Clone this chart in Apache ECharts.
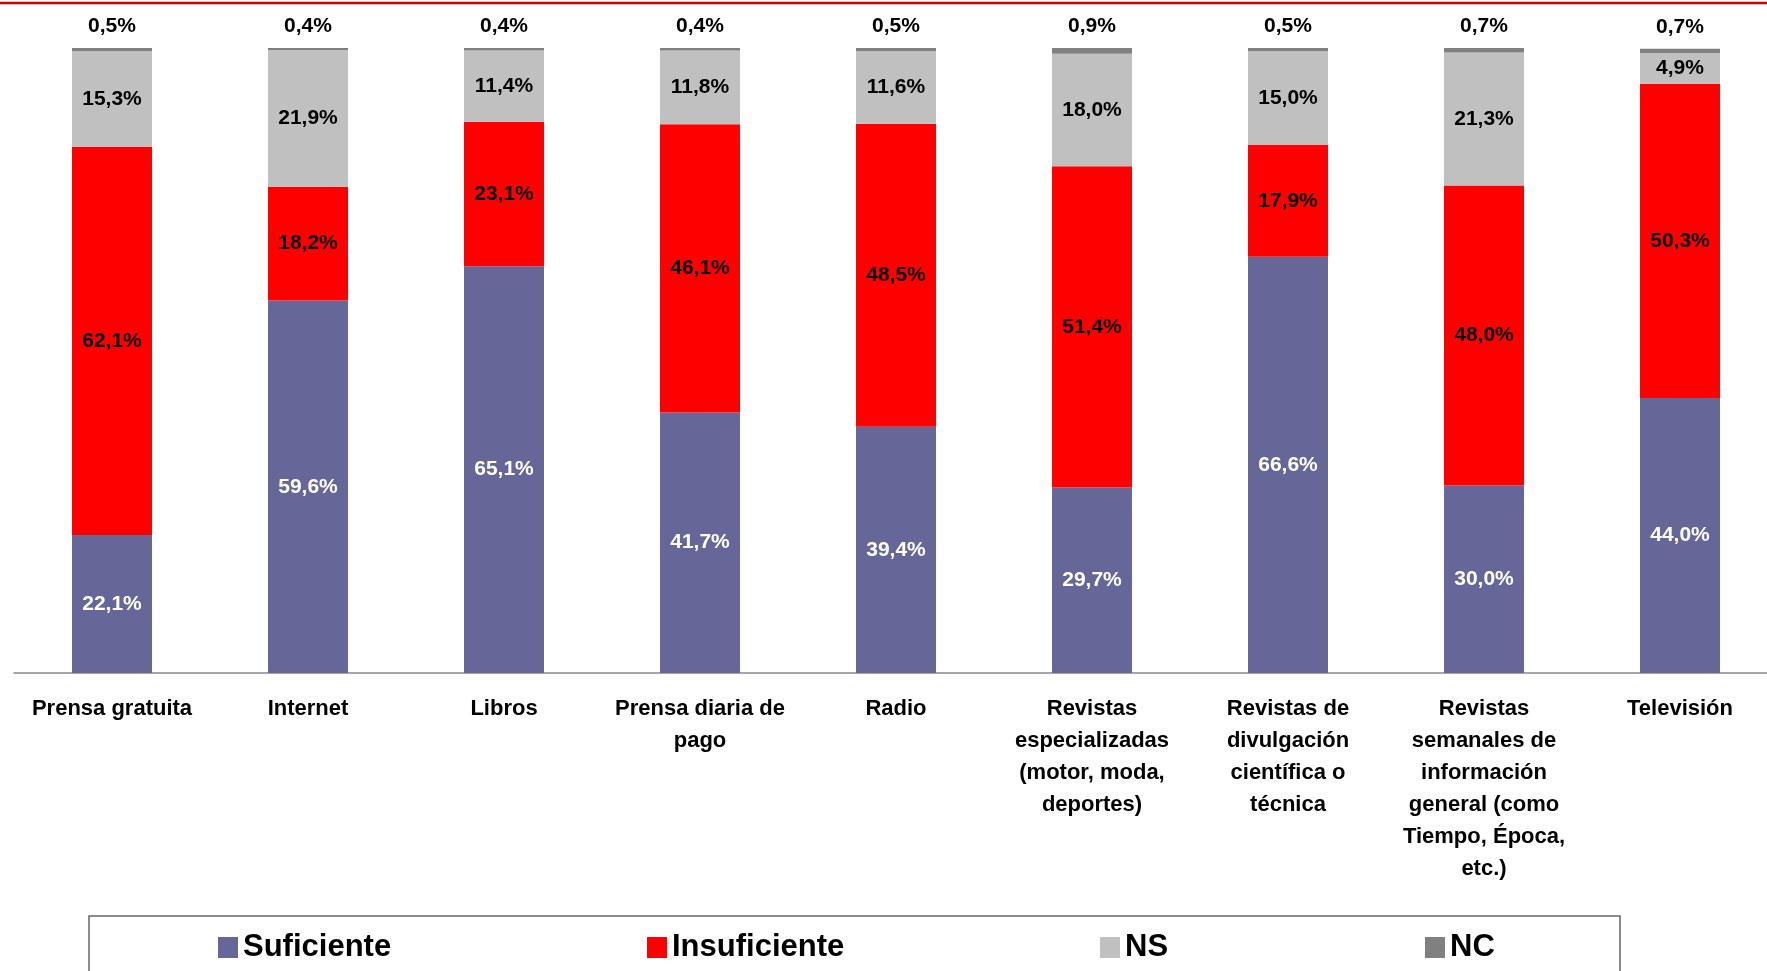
<!DOCTYPE html>
<html>
<head>
<meta charset="UTF-8">
<title>Valoración de la información científica por medio</title>
<script src="https://cdn.jsdelivr.net/npm/echarts@6/dist/echarts.min.js"></script>
<style>
  * { margin: 0; padding: 0; }
  html, body { width: 1767px; height: 971px; background: #fff; overflow: hidden; }
  /* el gráfico original está recortado por la derecha: el lienzo es algo más ancho que la ventana */
  #main { width: 1778px; height: 971px; }
</style>
</head>
<body>
<div id="main"></div>
<script>
var categorias = [
  'Prensa gratuita',
  'Internet',
  'Libros',
  'Prensa diaria de\npago',
  'Radio',
  'Revistas\nespecializadas\n(motor, moda,\ndeportes)',
  'Revistas de\ndivulgación\ncientífica o\ntécnica',
  'Revistas\nsemanales de\ninformación\ngeneral (como\nTiempo, Época,\netc.)',
  'Televisión'
];
var suficiente   = [22.1, 59.6, 65.1, 41.7, 39.4, 29.7, 66.6, 30.0, 44.0];
var insuficiente = [62.1, 18.2, 23.1, 46.1, 48.5, 51.4, 17.9, 48.0, 50.3];
var ns           = [15.3, 21.9, 11.4, 11.8, 11.6, 18.0, 15.0, 21.3, 4.9];
var nc           = [0.5, 0.4, 0.4, 0.4, 0.5, 0.9, 0.5, 0.7, 0.7];

var fuente = '"Liberation Sans", Arial, sans-serif';

function pct(p) {
  return p.value.toFixed(1).replace('.', ',') + '%';
}

function etiqueta(color, pos, dist) {
  return {
    show: true,
    position: pos,
    distance: dist,
    formatter: pct,
    color: color,
    fontFamily: fuente,
    fontWeight: 'bold',
    fontSize: 21
  };
}

function serie(nombre, datos, color, lbl) {
  return {
    name: nombre,
    type: 'bar',
    stack: 'total',
    barWidth: 80,
    data: datos,
    itemStyle: { color: color },
    label: lbl,
    emphasis: { disabled: true }
  };
}

function leyenda(nombre, x) {
  return {
    data: [nombre],
    left: x,
    top: 932,
    padding: 0,
    icon: 'rect',
    itemWidth: 20,
    itemHeight: 21,
    selectedMode: false,
    textStyle: {
      color: '#000',
      fontFamily: fuente,
      fontWeight: 'bold',
      fontSize: 31
    }
  };
}

var myChart = echarts.init(document.getElementById('main'));
var option = {
  backgroundColor: '#fff',
  animation: false,
  grid: { left: 14, top: 48, right: 0, height: 625 },
  xAxis: {
    type: 'category',
    data: categorias,
    axisLine: { lineStyle: { color: '#888', width: 1.5 } },
    axisTick: { length: 6, lineStyle: { color: '#888', width: 1.5 } },
    axisLabel: {
      interval: 0,
      margin: 20,
      color: '#000',
      fontFamily: fuente,
      fontWeight: 'bold',
      fontSize: 22,
      lineHeight: 32
    }
  },
  yAxis: {
    type: 'value',
    min: 0,
    max: 100,
    show: false
  },
  legend: [
    leyenda('Suficiente', 218),
    leyenda('Insuficiente', 647),
    leyenda('NS', 1100),
    leyenda('NC', 1425)
  ],
  series: [
    serie('Suficiente', suficiente, '#666699', etiqueta('#fff', 'inside')),
    serie('Insuficiente', insuficiente, '#ff0000', etiqueta('#000', 'inside')),
    serie('NS', ns, '#c0c0c0', etiqueta('#000', 'inside')),
    serie('NC', nc, '#808080', etiqueta('#000', 'top', 11))
  ],
  graphic: [
    {
      type: 'line',
      shape: { x1: 0, y1: 3, x2: 1778, y2: 3 },
      style: { stroke: '#cc0000', lineWidth: 2.5 }
    },
    {
      type: 'rect',
      shape: { x: 89, y: 916, width: 1531, height: 80 },
      style: { fill: 'none', stroke: '#666', lineWidth: 1.5 }
    }
  ]
};
myChart.setOption(option);
</script>
</body>
</html>
